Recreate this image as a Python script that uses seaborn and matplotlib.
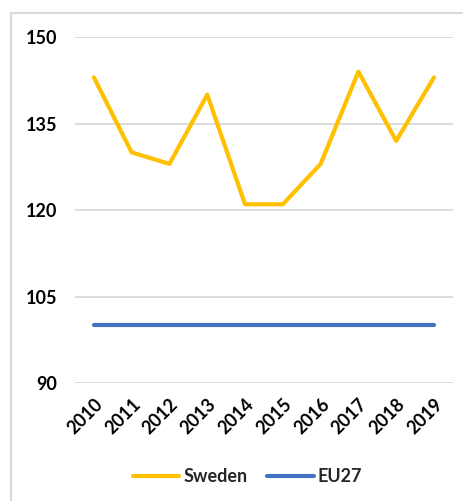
import pandas as pd
import matplotlib.pyplot as plt
import matplotlib.patches as patches
import seaborn as sns

# Data
years = ["2010", "2011", "2012", "2013", "2014", "2015", "2016", "2017", "2018", "2019"]
sweden = [143, 130, 128, 140, 121, 121, 128, 144, 132, 143]
eu27 = [100, 100, 100, 100, 100, 100, 100, 100, 100, 100]
y_ticks = [90, 105, 120, 135, 150]

SERIES_COLORS = {"Sweden": "#FFC000", "EU27": "#4472C4"}


def build_frame():
    df = pd.DataFrame({"year": years, "Sweden": sweden, "EU27": eu27})
    df["pos"] = range(len(years))
    return df.melt(id_vars=["year", "pos"], var_name="series", value_name="value")


def draw_chart(data):
    sns.set_theme(style="white")
    plt.rcParams["font.family"] = ["Lato", "DejaVu Sans"]

    fig = plt.figure(figsize=(4.64, 5.01), dpi=100)
    ax = fig.add_axes([0.1616, 0.2355, 0.8144, 0.6905])

    # light frame around the chart area
    fig.patches.append(patches.Rectangle(
        (0.0237, -0.02), 1.0, 0.994, transform=fig.transFigure,
        fill=False, edgecolor="#D9D9D9", linewidth=1.5))

    sns.lineplot(
        data=data, x="pos", y="value", hue="series",
        palette=SERIES_COLORS, linewidth=3, ax=ax, legend=True,
    )

    ax.set_xlim(-0.5, len(years) - 0.5)
    ax.set_ylim(90, 150)
    ax.set_yticks(y_ticks)
    ax.set_xticks(range(len(years)))
    ax.set_xticklabels(years, rotation=45, ha="right", rotation_mode="anchor")
    ax.set_xlabel("")
    ax.set_ylabel("")
    ax.grid(axis="y", color="#D9D9D9", linewidth=1.3)
    ax.grid(axis="x", visible=False)
    ax.set_axisbelow(True)
    for spine in ax.spines.values():
        spine.set_visible(False)
    ax.tick_params(axis="y", length=0, pad=13, labelsize=13, labelcolor="black")
    ax.tick_params(axis="x", length=0, pad=9, labelsize=13, labelcolor="black")
    for lbl in ax.get_xticklabels() + ax.get_yticklabels():
        lbl.set_fontweight("bold")

    handles, labels = ax.get_legend_handles_labels()
    ax.get_legend().remove()
    leg = fig.legend(
        handles, labels, loc="center", bbox_to_anchor=(0.533, 0.048),
        ncol=2, frameon=False, handlelength=2.6, handletextpad=0.2,
        columnspacing=1.1, prop={"weight": "bold", "size": 13},
    )
    for line in leg.get_lines():
        line.set_linewidth(3)

    fig.savefig("out.png", dpi=100)


if __name__ == "__main__":
    draw_chart(build_frame())
